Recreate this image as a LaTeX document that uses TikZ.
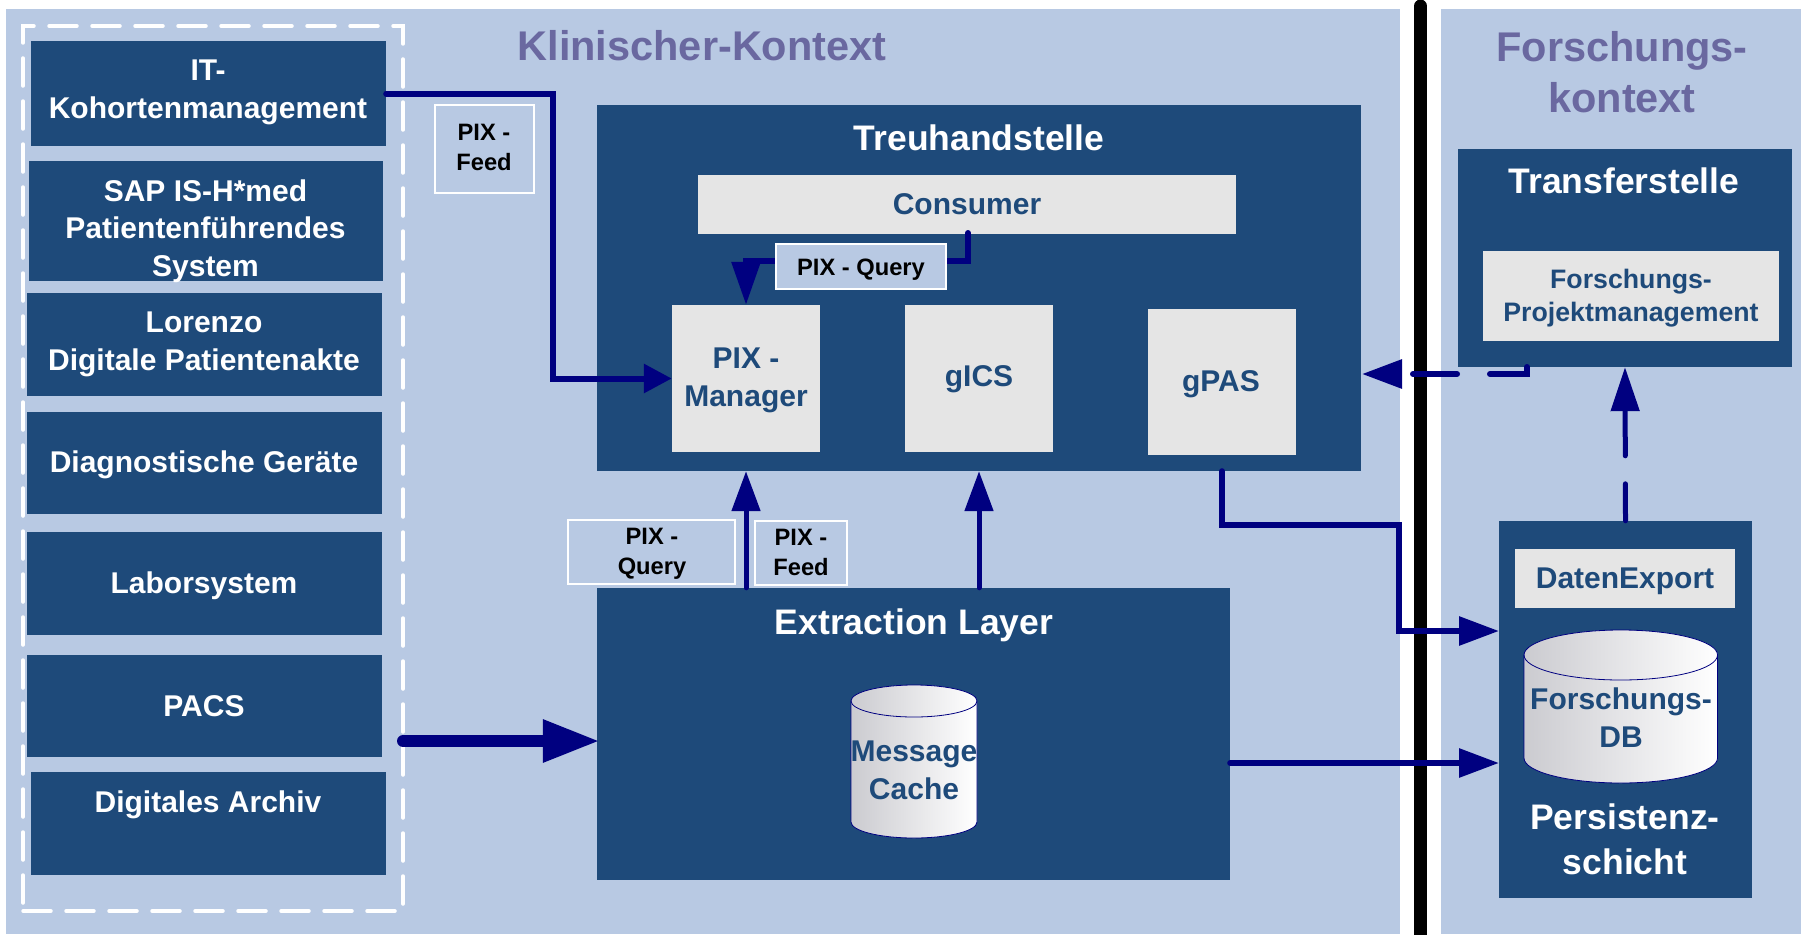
\documentclass[tikz,border=0pt]{standalone}
\usepackage{fontspec}
\setmainfont{Liberation Sans}
\usetikzlibrary{arrows.meta}
\definecolor{panelblue}{RGB}{184,201,227}
\definecolor{darkblue}{RGB}{30,74,122}
\definecolor{lightbox}{RGB}{229,229,229}
\definecolor{flowblue}{RGB}{0,0,128}
\definecolor{headline}{RGB}{106,104,160}
\definecolor{drumgray}{RGB}{203,203,208}
\begin{document}
\begin{tikzpicture}[x=1pt, y=-1pt, nodes={inner sep=0pt, align=center},
    panel/.style={fill=panelblue},
    dark/.style={fill=darkblue},
    light/.style={fill=lightbox},
    flowlabel/.style={draw=white, line width=2pt, fill=panelblue},
    big/.style={font=\bfseries\fontsize{41.5}{51}\selectfont, text=headline},
    head/.style={font=\bfseries\fontsize{35.5}{45}\selectfont, text=white},
    txt/.style={font=\bfseries\fontsize{30}{37.5}\selectfont, text=white},
    inner/.style={font=\bfseries\fontsize{30}{38}\selectfont, text=darkblue},
    pix/.style={font=\bfseries\fontsize{23.7}{30}\selectfont, text=black},
    flow/.style={draw=flowblue, line width=6pt, line cap=round, -{Triangle[length=40pt,width=28pt]}}]
    \useasboundingbox (0,0) rectangle (1806,934);
    \node[panel, minimum width=1394pt, minimum height=925pt] (clinic) at (703,471.5) {};
    \node[panel, minimum width=360pt, minimum height=925pt] (research) at (1621,471.5) {};
    \draw[line width=13pt, line cap=round] (1420.5,6) -- (1420.5,940);
    \node[draw=white, line width=3.5pt, line cap=round, dash pattern=on 28pt off 15pt, minimum width=380pt, minimum height=885pt] (sources) at (213,468.5) {};
    % source systems
    \node[dark, minimum width=355pt, minimum height=105pt] (it) at (208.5,93.5) {};
    \node[dark, minimum width=354pt, minimum height=120pt] (sap) at (206,221) {};
    \node[dark, minimum width=355pt, minimum height=103pt] (lorenzo) at (204.5,344.5) {};
    \node[dark, minimum width=355pt, minimum height=102pt] (diag) at (204.5,463) {};
    \node[dark, minimum width=355pt, minimum height=103pt] (labor) at (204.5,583.5) {};
    \node[dark, minimum width=355pt, minimum height=102pt] (pacs) at (204.5,706) {};
    \node[dark, minimum width=355pt, minimum height=103pt] (archiv) at (208.5,823.5) {};
    % main blocks
    \node[dark, minimum width=764pt, minimum height=366pt] (trust) at (979,288) {};
    \node[light, minimum width=538pt, minimum height=59pt] (consumer) at (967,204.5) {};
    \node[light, minimum width=148pt, minimum height=147pt] (manager) at (746,378.5) {};
    \node[light, minimum width=148pt, minimum height=147pt] (gics) at (979,378.5) {};
    \node[light, minimum width=148pt, minimum height=146pt] (gpas) at (1222,382) {};
    \node[dark, minimum width=633pt, minimum height=292pt] (extract) at (913.5,734) {};
    \node[dark, minimum width=334pt, minimum height=218pt] (transfer) at (1625,258) {};
    \node[light, minimum width=295.5pt, minimum height=90pt] (project) at (1631,296) {};
    \node[dark, minimum width=253pt, minimum height=377pt] (persist) at (1625.5,709.5) {};
    \node[light, minimum width=220pt, minimum height=59pt] (export) at (1625,578.5) {};
    % storage drums
    \foreach \cx/\rx/\lid/\base/\ry in {914/63/701/822/16, 1620.75/96.75/655/758/25} {
      \draw[draw=flowblue, line width=.8pt, left color=drumgray, right color=white]
        (\cx-\rx,\lid) arc[start angle=180, end angle=0, x radius=\rx pt, y radius=\ry pt]
        -- (\cx+\rx,\base) arc[start angle=0, end angle=-180, x radius=\rx pt, y radius=\ry pt] -- cycle;
      \draw[draw=flowblue, line width=.8pt] (\cx-\rx,\lid) arc[start angle=180, end angle=360, x radius=\rx pt, y radius=\ry pt];
    }
    % connectors
    \coordinate (feed bend) at (553,300);
    \coordinate (query start) at (968,233);
    \coordinate (query bend) at (746,261);
    \coordinate (sources out) at (403,741);
    \coordinate (export bend) at (1398.5,525);
    \coordinate (persist high) at (1499,631);
    \coordinate (persist low) at (1499,763);
    \coordinate (transfer out) at (1527,367);
    \coordinate (back in) at (1362,374);
    \draw[flow, -{Triangle[length=28pt,width=28pt]}] (it.east) -| (feed bend) |- (manager.west);
    \draw[flow, -{Triangle[length=43pt,width=28pt]}] (query start) |- (query bend) -- (manager.north);
    \draw[flow, line width=5pt] (manager.south |- extract.north) -- (manager.south |- trust.south);
    \draw[flow, line width=5pt] (gics.south |- extract.north) -- (gics.south |- trust.south);
    \draw[flow, line width=12pt, shorten >=-3pt, -{Triangle[length=57pt,width=40pt]}] (sources out) -- (extract.west |- sources out);
    \draw[flow] (gpas.south |- trust.south) |- (export bend) |- (persist high);
    \draw[flow] (extract.east |- persist low) -- (persist low);
    \draw[flow, dash pattern=on 44pt off 33pt] (transfer out) |- (back in);
    \draw[flow, line width=5pt, dash pattern=on 37pt off 28pt on 45pt off 10pt, -{Triangle[length=44pt,width=28pt]}] (persist.north) -- (transfer.south);
    % labels
    \node[flowlabel, minimum width=99pt, minimum height=88pt] (feed a) at (484.5,149) {};
    \node[flowlabel, minimum width=170pt, minimum height=45pt] (query a) at (861,266.5) {};
    \node[flowlabel, minimum width=167pt, minimum height=64pt] (query b) at (651.5,552) {};
    \node[flowlabel, minimum width=92pt, minimum height=64pt] (feed b) at (801,553) {};
    % texts
    \node[big] (clinic text) at (702,46) {Klinischer-Kontext};
    \node[big] (research text) at (1622,72) {Forschungs-\\kontext};
    \node[txt] (it text) at (208,92.5) {IT-\\Kohortenmanagement};
    \node[txt] (sap text) at (205.5,231) {SAP IS-H*med\\Patientenführendes\\System};
    \node[txt] (lorenzo text) at (204,344.5) {Lorenzo\\Digitale Patientenakte};
    \node[txt] (diag text) at (204,464.5) {Diagnostische Geräte};
    \node[txt] (labor text) at (204,585.5) {Laborsystem};
    \node[txt] (pacs text) at (204,706.5) {PACS};
    \node[txt] (archiv text) at (208,805) {Digitales Archiv};
    \node[pix] (feed a text) at (484,147) {PIX -\\Feed};
    \node[pix] (query a text) at (861,269.5) {PIX - Query};
    \node[pix] (query b text) at (652,554) {PIX -\\Query};
    \node[pix] (feed b text) at (801,552) {PIX -\\Feed};
    \node[head] (trust text) at (979,138) {Treuhandstelle};
    \node[inner] (consumer text) at (967,204) {Consumer};
    \node[inner] (manager text) at (746,380) {PIX -\\Manager};
    \node[inner] (gics text) at (979,379) {gICS};
    \node[inner] (gpas text) at (1221,384) {gPAS};
    \node[head] (extract text) at (914,625.5) {Extraction Layer};
    \node[inner] (cache text) at (914,770) {Message\\Cache};
    \node[head] (transfer text) at (1624,181) {Transferstelle};
    \node[inner, font=\bfseries\fontsize{26.7}{33}\selectfont] (project text) at (1631,298.5) {Forschungs-\\Projektmanagement};
    \node[inner] (export text) at (1625,581.5) {DatenExport};
    \node[inner] (db text) at (1621,718) {Forschungs-\\DB};
    \node[head] (persist text) at (1625,839.5) {Persistenz-\\schicht};
\end{tikzpicture}
\end{document}
